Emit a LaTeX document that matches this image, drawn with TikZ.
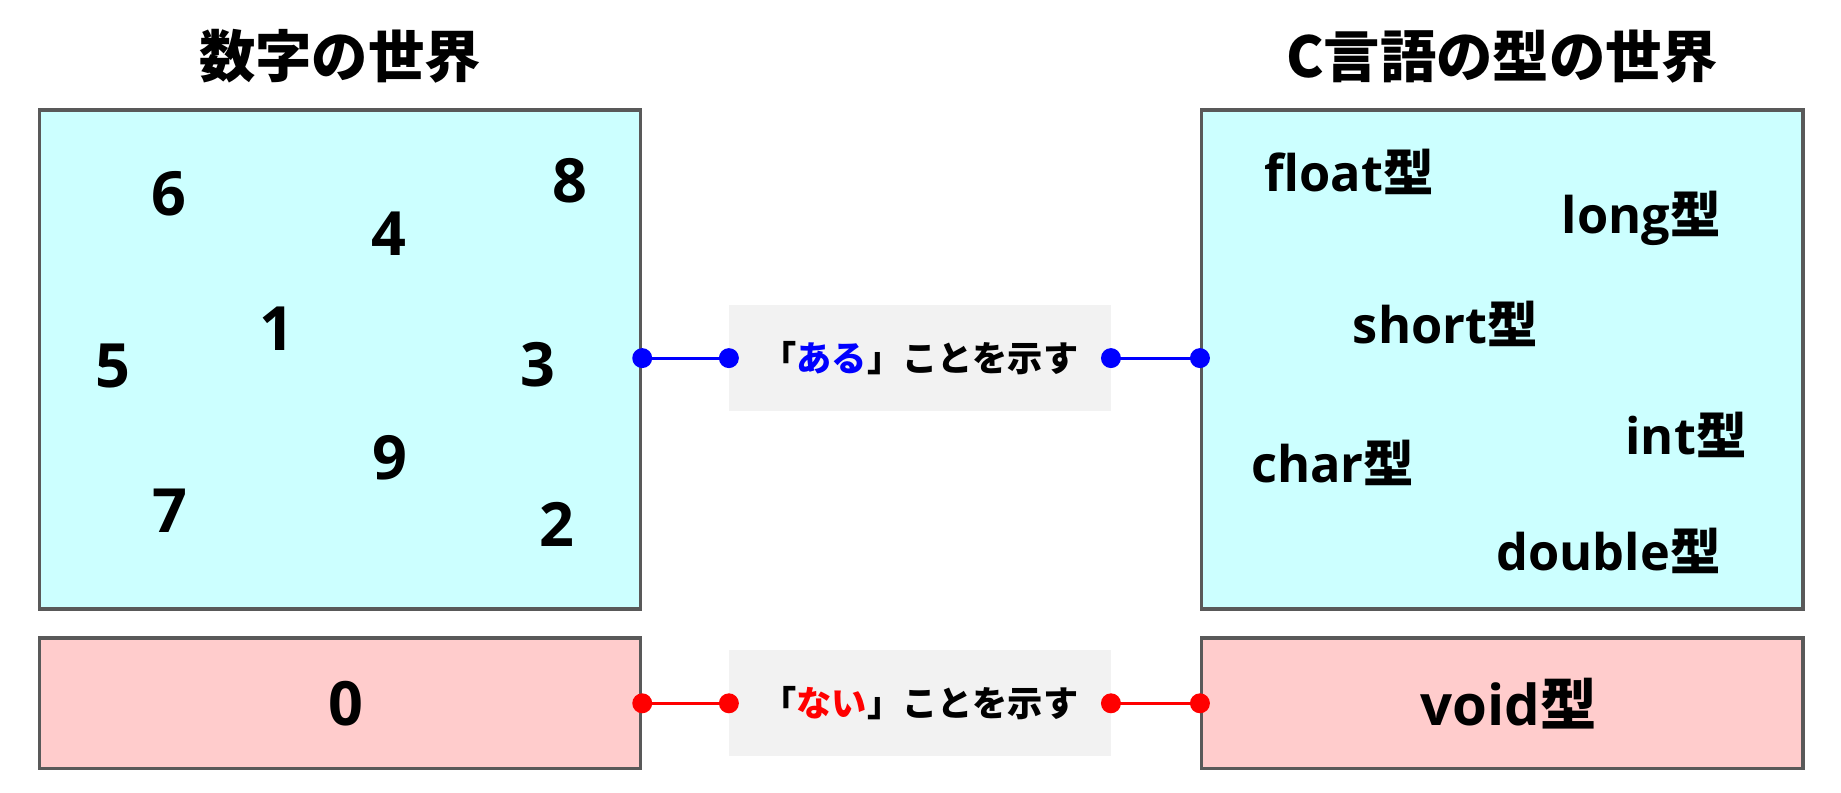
\documentclass[tikz,border=0pt]{standalone}
\usepackage{fontspec}
\setmainfont{Open Sans}
\newfontfamily\jp{Noto Sans CJK JP}

\definecolor{cyanbg}{HTML}{CCFFFF}
\definecolor{pinkbg}{HTML}{FFCCCC}
\definecolor{edgegray}{HTML}{595959}
\definecolor{labelgray}{HTML}{F2F2F2}

% a C type name followed by 型
\newcommand{\ctype}[1]{#1{\jp 型}}

\begin{document}
\begin{tikzpicture}[x=1pt,y=-1pt,
    worldbox/.style={draw=edgegray, line width=3, minimum width=512, inner sep=0},
    labelbox/.style={fill=labelgray, minimum width=325, minimum height=90, inner sep=0,
        font=\fontsize{30}{34}\selectfont\bfseries\jp},
    title/.style={inner sep=0, font=\fontsize{48}{56}\selectfont\bfseries\jp},
    num/.style={inner sep=0, font=\fontsize{52}{60}\selectfont\bfseries},
    typename/.style={inner sep=0, font=\fontsize{43}{50}\selectfont\bfseries},
    dot/.style={circle, fill, inner sep=0, minimum size=17},
    conn/.style={line width=2.5}]
    \useasboundingbox (0,0) rectangle (1568,675);

    % Titles
    \node[title] (numtitle) at (289.5,48) {数字の世界};
    \node[title] (typetitle) at (1279.5,48) {C言語の型の世界};

    % World boxes
    \node[worldbox, fill=cyanbg, minimum height=425] (numbers) at (289.5,306) {};
    \node[worldbox, fill=cyanbg, minimum height=425] (types) at (1279.5,306) {};
    \node[worldbox, fill=pinkbg, minimum height=111] (zero) at (289.5,599) {};
    \node[worldbox, fill=pinkbg, minimum height=111] (void) at (1279.5,599) {};

    % Numbers
    \node[num] (n6) at (144,165) {6};
    \node[num] (n8) at (485,154) {8};
    \node[num] (n4) at (331,199) {4};
    \node[num] (n1) at (236,280) {1};
    \node[num] (n5) at (96,312) {5};
    \node[num] (n3) at (458,311) {3};
    \node[num] (n9) at (332,390) {9};
    \node[num] (n7) at (145,435) {7};
    \node[num] (n2) at (474,447) {2};
    \node[num] (n0) at (295,599) {0};

    % Types
    \node[typename] (tfloat) at (1149,146) {\ctype{float}};
    \node[typename] (tlong) at (1398,186) {\ctype{long}};
    \node[typename] (tshort) at (1231,276) {\ctype{short}};
    \node[typename] (tint) at (1436,370) {\ctype{int}};
    \node[typename] (tchar) at (1135,394) {\ctype{char}};
    \node[typename] (tdouble) at (1370,469) {\ctype{double}};
    \node[typename, font=\fontsize{48}{56}\selectfont\bfseries] (tvoid) at (1285,599) {\ctype{void}};

    % Labels in the middle
    \node[labelbox] (exists) at (783.5,305) {「{\color{blue}ある}」ことを示す};
    \node[labelbox] (none) at (783.5,599) {「{\color{red}ない}」ことを示す};

    % Connectors
    \draw[conn, blue] (numbers.east |- exists) node[dot] (d1) {} -- (exists.west) node[dot] (d2) {};
    \draw[conn, blue] (exists.east) node[dot] (d3) {} -- (types.west |- exists) node[dot] (d4) {};
    \draw[conn, red] (zero.east) node[dot] (d5) {} -- (none.west) node[dot] (d6) {};
    \draw[conn, red] (none.east) node[dot] (d7) {} -- (void.west) node[dot] (d8) {};
\end{tikzpicture}
\end{document}
